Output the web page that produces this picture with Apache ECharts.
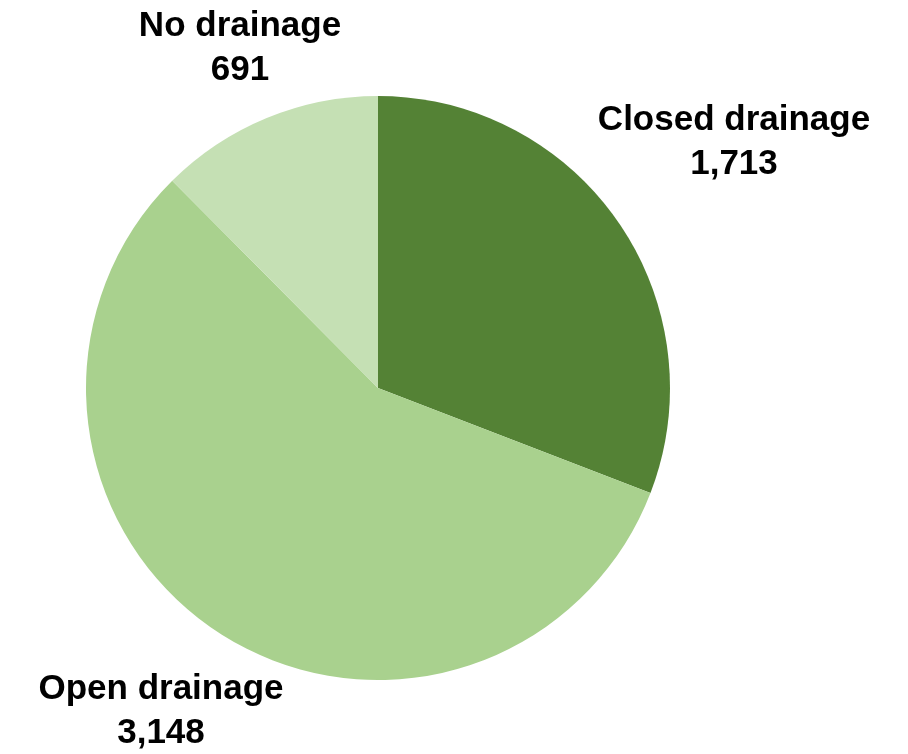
<!DOCTYPE html>
<html>
<head>
<meta charset="utf-8">
<style>
  html, body { margin: 0; padding: 0; background: #ffffff; }
  #chart { width: 908px; height: 754px; }
</style>
<script src="https://cdn.jsdelivr.net/npm/echarts@6/dist/echarts.min.js"></script>
</head>
<body>
<div id="chart"></div>
<script>
// Drainage type counts
const categories = ['Closed drainage', 'Open drainage', 'No drainage'];
const values = [1713, 3148, 691];
const colors = ['#548235', '#A9D18E', '#C5E0B4'];

// Label anchor points (block centres) for each slice label
const labelAnchors = [[734, 142], [161, 711], [240, 48]];

const fmt = v => v.toLocaleString('en-US');

const chart = echarts.init(document.getElementById('chart'), null, { renderer: 'canvas' });
chart.setOption({
  backgroundColor: '#ffffff',
  animation: false,
  series: [{
    type: 'pie',
    center: [378, 388],
    radius: 292,
    startAngle: 90,
    clockwise: true,
    silent: true,
    itemStyle: { borderWidth: 0 },
    label: {
      show: true,
      position: 'outside',
      formatter: p => p.name + '\n' + fmt(p.value),
      fontFamily: '"Liberation Sans", Arial, sans-serif',
      fontWeight: 'bold',
      fontSize: 35,
      lineHeight: 44,
      color: '#000000',
      align: 'center',
      overflow: 'none',
      width: 400,
      edgeDistance: 0
    },
    labelLine: { show: false },
    labelLayout: p => ({
      x: labelAnchors[p.dataIndex][0],
      y: labelAnchors[p.dataIndex][1],
      align: 'center',
      verticalAlign: 'middle',
      width: 400
    }),
    data: categories.map((c, i) => ({
      name: c,
      value: values[i],
      itemStyle: { color: colors[i] }
    }))
  }]
});
</script>
</body>
</html>
